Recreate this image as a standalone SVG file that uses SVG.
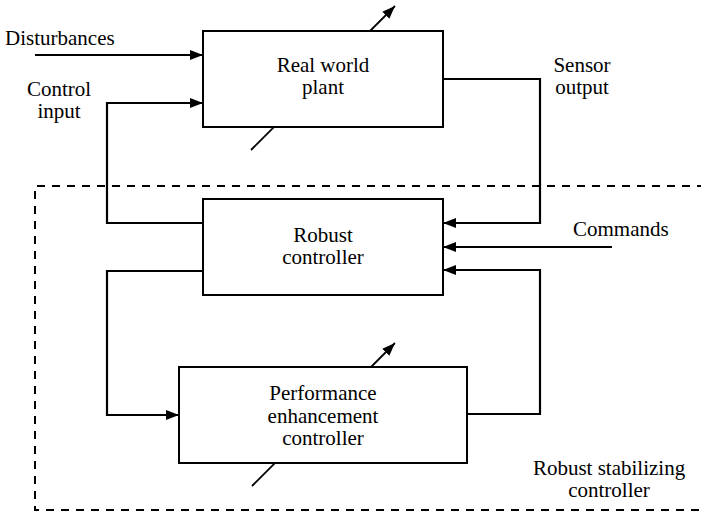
<svg xmlns="http://www.w3.org/2000/svg" width="701" height="515" viewBox="0 0 701 515" font-family="'Liberation Serif', 'DejaVu Serif', serif">
  <style>
    text { font-family: 'Liberation Serif', 'DejaVu Serif', serif; font-size: 21px; fill: #000; }
    .c { text-anchor: middle; }
    .box { fill: #fff; stroke: #000; stroke-width: 2; }
    .wire { fill: none; stroke: #000; stroke-width: 2.2; }
    .arr { marker-end: url(#head); }
    .tune { stroke: #000; stroke-width: 1.8; marker-end: url(#head); }
    .frame { fill: none; stroke: #000; stroke-width: 2; stroke-dasharray: 8 7; }
  </style>
  <defs>
    <marker id="head" markerUnits="userSpaceOnUse" markerWidth="14" markerHeight="10" refX="13" refY="5" orient="auto">
      <path d="M0,0 L13,5 L0,10 z" fill="#000"/>
    </marker>
  </defs>
  <rect width="701" height="515" fill="#fff"/>

  <!-- robust stabilizing controller boundary -->
  <g id="frame">
    <path class="frame" d="M720,186 H35 V510 H720"/>
    <text class="c" x="609" y="475">Robust stabilizing</text>
    <text class="c" x="609" y="497">controller</text>
  </g>

  <!-- adjustable-parameter arrows, drawn beneath the blocks -->
  <g id="tuning">
    <line class="tune" x1="251" y1="150" x2="395" y2="6"/>
    <line class="tune" x1="252" y1="486" x2="395" y2="343"/>
  </g>

  <g id="connectors">
    <path class="wire arr" d="M35,55 H203"/>
    <path class="wire arr" d="M203,223 H107 V103 H203"/>
    <path class="wire arr" d="M443,79 H540 V223 H443"/>
    <path class="wire arr" d="M612,247 H443"/>
    <path class="wire arr" d="M203,271 H107 V415 H179"/>
    <path class="wire arr" d="M467,414 H540 V270 H443"/>
  </g>

  <g id="labels">
    <text x="5" y="45">Disturbances</text>
    <text class="c" x="59" y="96">Control</text>
    <text class="c" x="59" y="118">input</text>
    <text class="c" x="582" y="72">Sensor</text>
    <text class="c" x="582" y="94">output</text>
    <text x="573" y="236">Commands</text>
  </g>

  <g id="plant">
    <rect class="box" x="203" y="31" width="240" height="96"/>
    <text class="c" x="323" y="72">Real world</text>
    <text class="c" x="323" y="94">plant</text>
  </g>

  <g id="robust-controller">
    <rect class="box" x="203" y="199" width="240" height="96"/>
    <text class="c" x="323" y="242">Robust</text>
    <text class="c" x="323" y="264">controller</text>
  </g>

  <g id="performance-controller">
    <rect class="box" x="179" y="367" width="288" height="96"/>
    <text class="c" x="323" y="400">Performance</text>
    <text class="c" x="323" y="423">enhancement</text>
    <text class="c" x="323" y="445">controller</text>
  </g>
</svg>
